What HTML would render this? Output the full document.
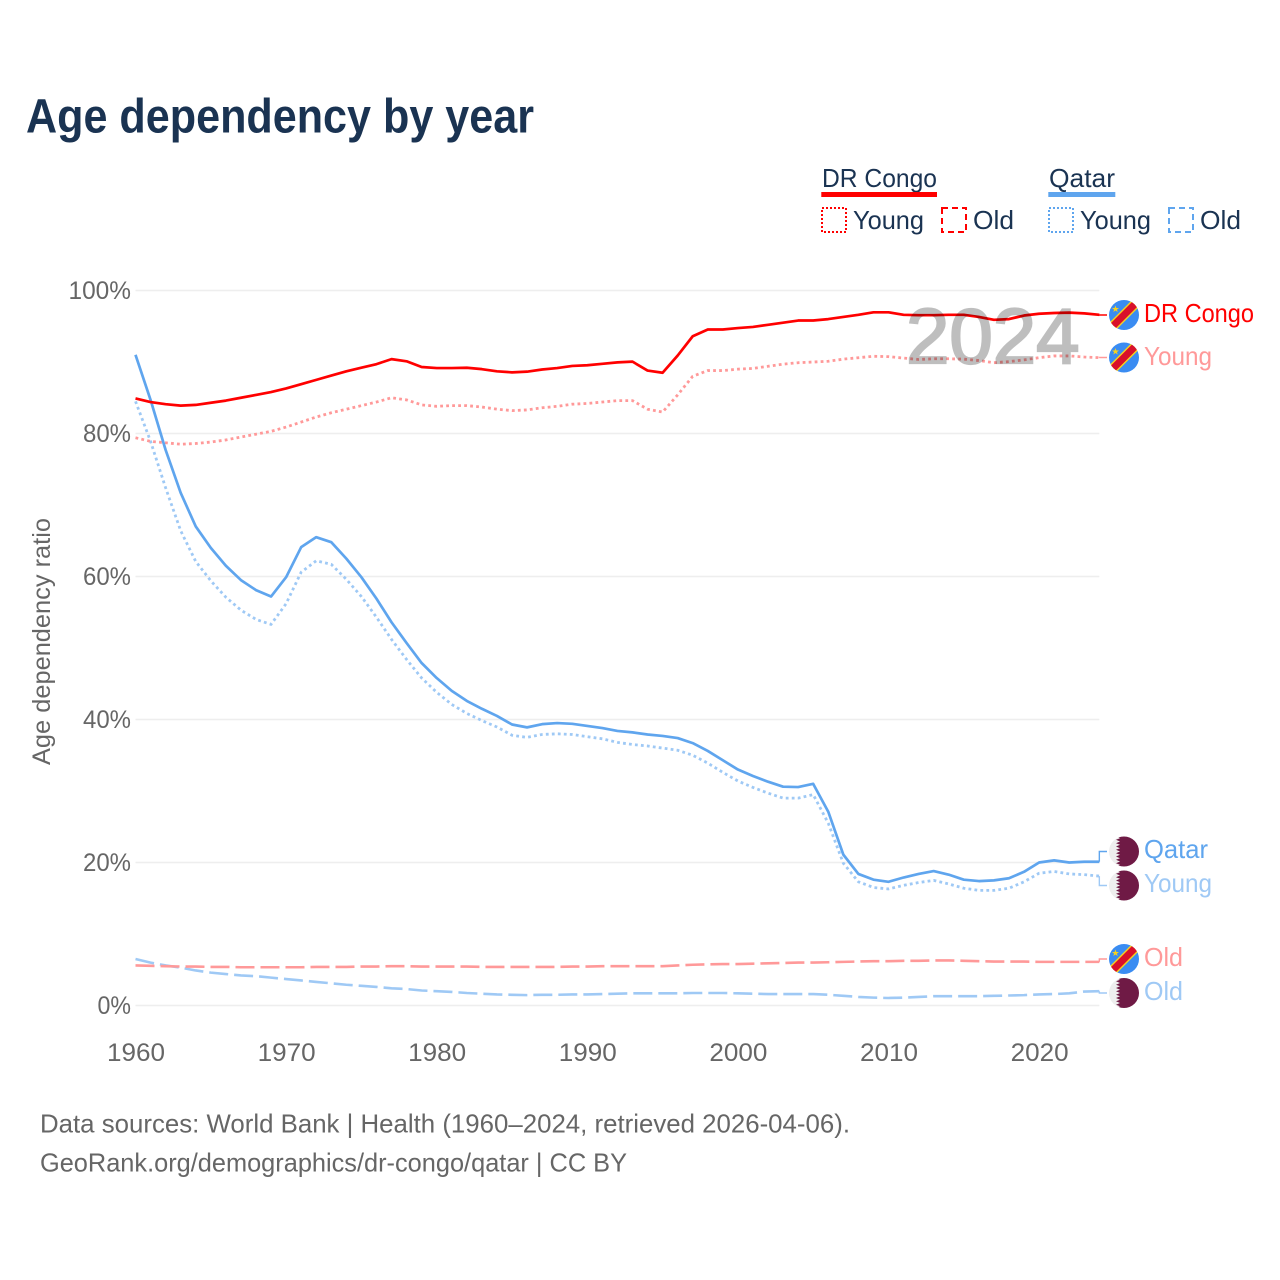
<!DOCTYPE html>
<html lang="en">
<head>
<meta charset="utf-8">
<title>Age dependency by year</title>
<style>
html,body{margin:0;padding:0;background:#fff;}
svg{display:block;font-family:"Liberation Sans",sans-serif;}
</style>
</head>
<body>
<svg id="chart" width="1280" height="1280" viewBox="0 0 1280 1280" xmlns="http://www.w3.org/2000/svg">
<defs>
<clipPath id="flag-clip"><circle cx="0" cy="0" r="15"/></clipPath>
<g id="flag-cd" clip-path="url(#flag-clip)">
<rect x="-15" y="-15" width="30" height="30" fill="#3a8cf2"/>
<polygon points="-15,8 8,-15 15,-15 15,-8 -8,15 -15,15" fill="#f7d21e"/>
<polygon points="-15,10 10,-15 15,-15 15,-10 -10,15 -15,15" fill="#d9102a"/>
<polygon points="-8.5,-9.5 -7.6,-7 -5,-7 -7.1,-5.4 -6.3,-3 -8.5,-4.5 -10.7,-3 -9.9,-5.4 -12,-7 -9.4,-7" fill="#f7d21e"/>
</g>
<g id="flag-qa" clip-path="url(#flag-clip)">
<rect x="-15" y="-15" width="30" height="30" fill="#eeeeee"/>
<polygon points="15,-15 -8,-15 -4,-13.3 -8,-11.7 -4,-10 -8,-8.3 -4,-6.7 -8,-5 -4,-3.3 -8,-1.7 -4,0 -8,1.7 -4,3.3 -8,5 -4,6.7 -8,8.3 -4,10 -8,11.7 -4,13.3 -8,15 15,15" fill="#6f1a45"/>
</g>
</defs>

<rect x="0" y="0" width="1280" height="1280" fill="#ffffff"/>

<text x="26" y="132.5" font-size="48" font-weight="700" fill="#1a3352" textLength="508" lengthAdjust="spacingAndGlyphs">Age dependency by year</text>

<g font-size="26" fill="#1a3352">
<text x="822" y="187" textLength="115" lengthAdjust="spacingAndGlyphs">DR Congo</text>
<rect x="821.3" y="192" width="115.7" height="5" fill="#ff0000"/>
<text x="1049" y="187" textLength="66" lengthAdjust="spacingAndGlyphs">Qatar</text>
<rect x="1048.3" y="192" width="67" height="5" fill="#5fa5ee"/>

<rect x="822" y="208" width="24" height="24" fill="none" stroke="#ff0000" stroke-width="2" stroke-dasharray="2 2"/>
<text x="853" y="229" textLength="71" lengthAdjust="spacingAndGlyphs">Young</text>
<rect x="942" y="208" width="24" height="24" fill="none" stroke="#ff0000" stroke-width="2" stroke-dasharray="6 4"/>
<text x="973" y="229" textLength="41" lengthAdjust="spacingAndGlyphs">Old</text>
<rect x="1049" y="208" width="24" height="24" fill="none" stroke="#5fa5ee" stroke-width="2" stroke-dasharray="2 2"/>
<text x="1080" y="229" textLength="71" lengthAdjust="spacingAndGlyphs">Young</text>
<rect x="1169" y="208" width="24" height="24" fill="none" stroke="#5fa5ee" stroke-width="2" stroke-dasharray="6 4"/>
<text x="1200" y="229" textLength="41" lengthAdjust="spacingAndGlyphs">Old</text>
</g>

<g id="grid"></g>
<g id="y-ticks"></g>
<g id="x-ticks"></g>
<text transform="translate(50,765) rotate(-90)" font-size="25" fill="#666666" textLength="247" lengthAdjust="spacingAndGlyphs">Age dependency ratio</text>

<g id="series"></g>

<text x="906" y="363" font-size="78" font-weight="400" fill="#000000" stroke="#000000" stroke-width="2.2" opacity="0.25">2024</text>

<use href="#flag-cd" x="1124" y="315"/>
<use href="#flag-cd" x="1124" y="357.5"/>
<use href="#flag-qa" x="1124" y="851.5"/>
<use href="#flag-qa" x="1124" y="885.5"/>
<use href="#flag-cd" x="1124" y="959"/>
<use href="#flag-qa" x="1124" y="993"/>

<g font-size="26">
<text x="1144" y="322" fill="#ff0000" textLength="110" lengthAdjust="spacingAndGlyphs">DR Congo</text>
<text x="1144" y="365" fill="#ff9999" textLength="68" lengthAdjust="spacingAndGlyphs">Young</text>
<text x="1144" y="858" fill="#5fa5ee" textLength="64" lengthAdjust="spacingAndGlyphs">Qatar</text>
<text x="1144" y="892" fill="#9fc9f5" textLength="68" lengthAdjust="spacingAndGlyphs">Young</text>
<text x="1144" y="966" fill="#ff9999" textLength="39" lengthAdjust="spacingAndGlyphs">Old</text>
<text x="1144" y="1000" fill="#9fc9f5" textLength="39" lengthAdjust="spacingAndGlyphs">Old</text>
</g>

<g font-size="26" fill="#666666">
<text x="40" y="1132.5" textLength="810" lengthAdjust="spacingAndGlyphs">Data sources: World Bank | Health (1960–2024, retrieved 2026-04-06).</text>
<text x="40" y="1171.5" textLength="587" lengthAdjust="spacingAndGlyphs">GeoRank.org/demographics/dr-congo/qatar | CC BY</text>
</g>

<script>
var firstYear = 1960;
var yTickValues = [0, 20, 40, 60, 80, 100];
var yTickLabels = ["0%", "20%", "40%", "60%", "80%", "100%"];
var xTickYears = [1960, 1970, 1980, 1990, 2000, 2010, 2020];
var xTickLabels = ["1960", "1970", "1980", "1990", "2000", "2010", "2020"];

var congoTotal = [84.9,84.4,84.1,83.9,84.0,84.3,84.6,85.0,85.4,85.8,86.3,86.9,87.5,88.1,88.7,89.2,89.7,90.4,90.1,89.3,89.15,89.15,89.2,89.0,88.7,88.55,88.65,88.95,89.15,89.45,89.55,89.75,89.95,90.05,88.8,88.5,90.9,93.6,94.55,94.55,94.75,94.9,95.2,95.5,95.8,95.8,96.0,96.3,96.6,96.95,96.95,96.6,96.55,96.55,96.6,96.6,96.3,95.9,96.0,96.5,96.75,96.85,96.9,96.8,96.6];
var congoYoung = [79.4,78.9,78.7,78.5,78.6,78.8,79.1,79.5,79.9,80.3,80.9,81.6,82.3,82.9,83.4,83.9,84.4,85.0,84.7,84.0,83.8,83.9,83.9,83.7,83.4,83.2,83.3,83.6,83.8,84.1,84.2,84.4,84.6,84.6,83.4,83.0,85.4,88.0,88.8,88.8,89.0,89.1,89.4,89.7,89.9,90.0,90.1,90.4,90.6,90.8,90.75,90.55,90.35,90.45,90.45,90.4,90.2,89.9,90.05,90.3,90.6,90.85,90.85,90.7,90.6];
var congoOld = [5.6,5.55,5.5,5.45,5.45,5.4,5.4,5.35,5.35,5.35,5.35,5.35,5.4,5.4,5.4,5.45,5.45,5.5,5.5,5.45,5.45,5.45,5.45,5.4,5.4,5.4,5.4,5.4,5.4,5.45,5.45,5.5,5.5,5.5,5.5,5.5,5.6,5.7,5.75,5.8,5.8,5.85,5.9,5.95,6.0,6.0,6.05,6.1,6.15,6.2,6.2,6.25,6.25,6.3,6.3,6.25,6.2,6.15,6.15,6.15,6.1,6.1,6.1,6.1,6.1];
var qatarTotal = [91.0,84.7,77.7,71.7,67.0,64.0,61.5,59.5,58.1,57.2,59.9,64.1,65.5,64.8,62.5,59.9,56.9,53.6,50.7,47.9,45.8,44.0,42.6,41.5,40.5,39.3,38.9,39.35,39.5,39.4,39.1,38.8,38.4,38.2,37.9,37.7,37.4,36.7,35.6,34.3,33.0,32.1,31.3,30.6,30.55,31.0,27.1,21.1,18.4,17.6,17.3,17.9,18.4,18.8,18.3,17.6,17.4,17.5,17.8,18.7,20.0,20.3,20.0,20.1,20.1];
var qatarYoung = [84.5,78.9,72.4,66.4,62.1,59.4,57.1,55.3,54.0,53.3,56.2,60.6,62.2,61.7,59.6,57.2,54.3,51.2,48.4,45.8,43.8,42.1,40.85,39.85,38.95,37.8,37.5,37.9,38.0,37.9,37.6,37.3,36.8,36.5,36.3,36.0,35.7,35.0,33.9,32.6,31.4,30.5,29.7,29.0,29.0,29.5,25.5,19.9,17.3,16.5,16.3,16.8,17.2,17.5,17.0,16.4,16.1,16.1,16.4,17.3,18.5,18.75,18.4,18.3,18.1];
var qatarOld = [6.5,6.0,5.6,5.3,4.9,4.6,4.4,4.2,4.1,3.9,3.7,3.5,3.3,3.1,2.9,2.75,2.6,2.4,2.3,2.1,2.0,1.9,1.75,1.65,1.55,1.5,1.45,1.5,1.5,1.55,1.55,1.6,1.65,1.7,1.7,1.7,1.7,1.75,1.75,1.75,1.7,1.65,1.6,1.6,1.6,1.6,1.5,1.35,1.2,1.1,1.05,1.1,1.2,1.3,1.3,1.3,1.3,1.35,1.4,1.45,1.55,1.6,1.7,1.95,2.0];

var NS = "http://www.w3.org/2000/svg";
function xScale(year) { return 135.5 + (year - 1960) * 15.06; }
function yScale(value) { return 1005.5 - value * 7.15; }
function linePath(values) {
  var d = "";
  for (var i = 0; i < values.length; i++) {
    d += (i ? "L" : "M") + xScale(firstYear + i).toFixed(2) + " " + yScale(values[i]).toFixed(2);
  }
  return d;
}

var grid = document.getElementById("grid");
var yTicks = document.getElementById("y-ticks");
var xTicks = document.getElementById("x-ticks");
var seriesLayer = document.getElementById("series");

yTickValues.forEach(function (v, i) {
  var line = document.createElementNS(NS, "line");
  
  
  line.setAttribute("x1", xScale(1960));
  line.setAttribute("x2", xScale(2024));
  line.setAttribute("y1", yScale(v));
  line.setAttribute("y2", yScale(v));
  line.setAttribute("stroke", "#eeeeee");
  line.setAttribute("stroke-width", "1.4");
  grid.appendChild(line);

  var t = document.createElementNS(NS, "text");
  
  
  t.setAttribute("x", 131);
  t.setAttribute("y", yScale(v) + 8.5);
  t.setAttribute("text-anchor", "end");
  t.setAttribute("font-size", "25");
  t.setAttribute("fill", "#666666");
  t.setAttribute("textLength", (yTickLabels[i].length - 1) * 14.5 + 19);
  t.setAttribute("lengthAdjust", "spacingAndGlyphs");
  t.textContent = yTickLabels[i];
  yTicks.appendChild(t);
});

xTickYears.forEach(function (y, i) {
  var t = document.createElementNS(NS, "text");
  
  
  t.setAttribute("x", xScale(y) + 0.5);
  t.setAttribute("y", 1061);
  t.setAttribute("text-anchor", "middle");
  t.setAttribute("font-size", "25");
  t.setAttribute("fill", "#666666");
  t.setAttribute("textLength", 58);
  t.setAttribute("lengthAdjust", "spacingAndGlyphs");
  t.textContent = xTickLabels[i];
  xTicks.appendChild(t);
});

function drawSeries(name, values, color, width, dash, labelY) {
  var p = document.createElementNS(NS, "path");
  
  
  p.setAttribute("d", linePath(values));
  p.setAttribute("fill", "none");
  p.setAttribute("stroke", color);
  p.setAttribute("stroke-width", width);
  p.setAttribute("stroke-linejoin", "round");
  if (dash) p.setAttribute("stroke-dasharray", dash);
  seriesLayer.appendChild(p);

  var endX = xScale(firstYear + values.length - 1);
  var endY = yScale(values[values.length - 1]);
  var c = document.createElementNS(NS, "path");
  
  
  c.setAttribute("d", "M" + endX + " " + endY + "V" + labelY + "H1107");
  c.setAttribute("fill", "none");
  c.setAttribute("stroke", color);
  c.setAttribute("stroke-width", "1.4");
  seriesLayer.appendChild(c);
}

drawSeries("line-qatar-old", qatarOld, "#9fc9f5", 2.6, "19 6", 993);
drawSeries("line-dr-congo-old", congoOld, "#ff9999", 2.6, "19 6", 959);
drawSeries("line-qatar-young", qatarYoung, "#9fc9f5", 2.8, "2.8 3.2", 885.5);
drawSeries("line-dr-congo-young", congoYoung, "#ff9999", 2.8, "2.8 3.2", 357.5);
drawSeries("line-qatar-total", qatarTotal, "#5fa5ee", 2.7, "", 851.5);
drawSeries("line-dr-congo-total", congoTotal, "#ff0000", 2.7, "", 315);
</script>
</svg>
</body>
</html>
